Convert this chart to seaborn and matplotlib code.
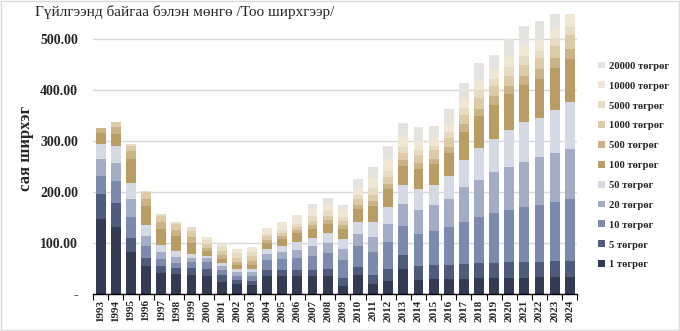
import matplotlib
matplotlib.use("Agg")
import matplotlib.pyplot as plt
import matplotlib.patches as mpatches
import numpy as np
import pandas as pd
import seaborn as sns

years = [str(y) for y in range(1993, 2025)]

t1 = [147, 132, 82.5, 55, 41, 39, 37, 35, 23.6, 19.7, 17.7, 35, 35, 35, 35, 35, 15.7, 37, 19.7, 25.6,
      49, 27.5, 29.5, 29.5, 29.5, 31.5, 31.5, 31.5, 31.5, 33.5, 33.5, 33.5]
t5 = [49, 47, 27.5, 16, 14, 12, 14, 14, 13.4, 7.8, 7.9, 12, 12, 12, 12, 14, 15.8, 16, 17.3, 23.4,
      28, 27.5, 27.5, 27.5, 29.5, 29.5, 29.5, 31.5, 31.5, 29.5, 31.5, 31.5]
t10 = [36, 43, 41, 24, 14, 10, 12, 14, 10, 7.5, 9.4, 20, 22, 24, 28, 32, 35.5, 41, 46, 53,
       57, 63, 67, 75, 83, 90.6, 98.4, 102, 108, 112, 116, 122]
t20 = [33, 35, 36, 19, 13.5, 12, 8, 8, 8, 8, 8, 12, 14, 16, 19, 19, 21.5, 24, 29, 36,
       43, 47, 51, 55, 68.6, 72.4, 80.6, 85, 89, 93, 96.6, 98]
t50 = [30, 34, 31, 22, 13.5, 11.5, 8, 4, 6, 6, 6, 9.5, 11, 15, 16, 20, 19.5, 24, 30, 33,
       37, 41.6, 39, 45, 53.4, 63, 65, 71, 77, 78, 84.4, 91]
t100 = [21, 23, 47, 37, 32, 29.5, 21, 9.5, 8, 8, 8, 11.5, 14, 18, 18, 18, 20, 25, 31, 35.6,
        37, 39, 41, 45, 55, 63, 67, 71, 74, 77, 81, 84.6]
t500 = [9, 14, 16, 14, 13, 12, 12, 5.5, 8, 6, 8, 6, 6, 6, 8, 8, 8, 8, 10, 9.4,
        12, 11.4, 10, 12, 14, 14, 16, 15.5, 18, 18, 19.6, 21.4]
t1000 = [1, 10, 10, 13, 12, 11.5, 12, 8, 7.5, 8, 10, 8, 6, 6, 8, 7, 8, 12, 12, 14,
         14, 16, 18, 17.5, 19, 20, 21, 21.5, 20, 21.6, 23.4, 26]
t5000 = [0, 0, 4, 3, 4, 3.5, 8, 8, 7.5, 10, 8, 4, 6, 6, 9, 10, 7, 8, 13, 12,
         12, 10, 8, 11.5, 14, 16, 14, 16, 17.5, 15.4, 16, 15.6]
t10000 = [0, 0, 0, 0, 0, 0, 0, 6, 6, 7.5, 9.5, 12, 16, 17, 16, 16, 14, 15, 20, 23,
          19, 17.6, 15.5, 16, 18, 19, 18, 20, 21.5, 20, 21.6, 42]
t20000 = [0, 0, 0, 0, 0, 0, 0, 0, 0, 0, 0, 0, 0, 0, 8, 10, 10, 16, 22, 26,
          28, 27.4, 23.5, 30, 31, 34, 29, 35, 37.6, 39, 50, 40]

series_labels = ["1 төгрөг", "5 төгрөг", "10 төгрөг", "20 төгрөг", "50 төгрөг", "100 төгрөг",
                 "500 төгрөг", "1000 төгрөг", "5000 төгрөг", "10000 төгрөг", "20000 төгрөг"]
series_values = [t1, t5, t10, t20, t50, t100, t500, t1000, t5000, t10000, t20000]
colors = ["#333B52", "#4E5B7B", "#7C8AAD", "#A3ADC5", "#D5D9E3", "#B99D65",
          "#CBB287", "#DDCBA8", "#E7DBC3", "#EFE6D5", "#E4E3E0"]

title = "Гүйлгээнд байгаа бэлэн мөнгө /Тоо ширхгээр/"
ylabel = "сая ширхэг"
yticks = [0, 100, 200, 300, 400, 500]
ytick_labels = ["-", "100.00", "200.00", "300.00", "400.00", "500.00"]

sns.set_theme(style="white")
plt.rcParams["font.family"] = ["Liberation Serif", "DejaVu Serif"]

fig = plt.figure(figsize=(6.8, 3.31), dpi=100)
ax = fig.add_axes([0.137, 0.112, 0.712, 0.846])

df = pd.DataFrame({"year": years})
bottom = np.zeros(len(years))
handles = []
for lab, vals, col in zip(series_labels, series_values, colors):
    df[lab] = vals
    sns.barplot(data=df, x="year", y=lab, color=col, saturation=1, width=0.65,
                bottom=bottom.copy(), ax=ax, linewidth=0, edgecolor=col, zorder=3)
    bottom = bottom + np.array(vals)
    handles.append(mpatches.Patch(facecolor=col, edgecolor="none", label=lab))

ax.set_xlim(-0.5, len(years) - 0.5)
ax.set_ylim(0, 550)
ax.set_yticks(yticks)
ax.set_yticklabels(ytick_labels, fontsize=10, fontweight="bold")
ax.set_xticks(range(len(years)))
ax.set_xticklabels(years, rotation=90, fontsize=8, fontweight="bold")
ax.set_xticks(np.arange(-0.5, len(years), 1.0), minor=True)
ax.tick_params(axis="x", which="major", length=0, pad=4)
ax.tick_params(axis="x", which="minor", length=4, width=0.8, color="black", direction="out", bottom=True)
ax.tick_params(axis="y", length=0, pad=11)
ax.set_xlabel("")
ax.set_ylabel(ylabel, fontsize=12, fontweight="bold")
ax.yaxis.set_label_coords(-0.123, 0.52)
ax.yaxis.grid(True, color="#D9D9D9", linewidth=1, zorder=0)
ax.xaxis.grid(False)
for s in ["left", "right", "top"]:
    ax.spines[s].set_visible(False)
ax.spines["bottom"].set_color("black")
ax.spines["bottom"].set_linewidth(1)
ax.spines["bottom"].set_zorder(5)

fig.text(0.052, 0.963, title, fontsize=11, va="center", ha="left")

leg = fig.legend(handles[::-1], series_labels[::-1], loc="center left",
                 bbox_to_anchor=(0.872, 0.5), frameon=False,
                 prop={"size": 7.7, "weight": "bold"},
                 handlelength=0.6, handleheight=0.6, handletextpad=0.4,
                 labelspacing=1.0, borderpad=0)

fig.patches.append(mpatches.Rectangle((0.001, 0.002), 0.997, 0.996, transform=fig.transFigure,
                                      fill=False, edgecolor="#D9D9D9", linewidth=1))

fig.savefig("out.png", dpi=100)
